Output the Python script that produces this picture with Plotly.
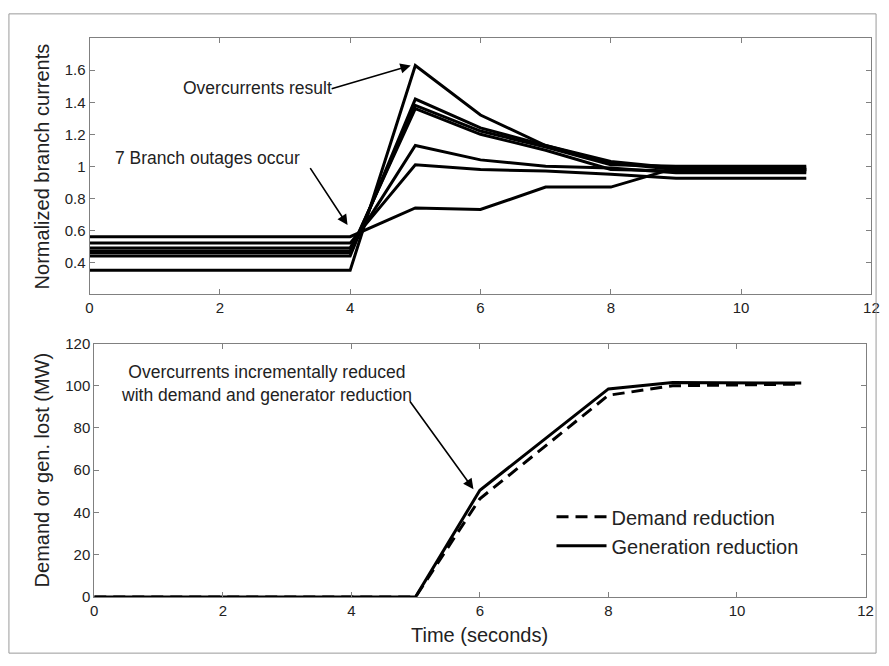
import plotly.graph_objects as go

time_s = [0, 1, 2, 3, 4, 5, 6, 7, 8, 9, 10, 11]

branch_1 = [0.35, 0.35, 0.35, 0.35, 0.35, 1.63, 1.32, 1.13, 1.02, 0.98, 0.98, 0.98]
branch_2 = [0.44, 0.44, 0.44, 0.44, 0.44, 1.42, 1.24, 1.13, 1.03, 0.99, 0.99, 0.99]
branch_3 = [0.46, 0.46, 0.46, 0.46, 0.46, 1.38, 1.22, 1.12, 1.01, 1.00, 1.00, 1.00]
branch_4 = [0.47, 0.47, 0.47, 0.47, 0.47, 1.36, 1.20, 1.10, 0.98, 0.97, 0.97, 0.97]
branch_5 = [0.49, 0.49, 0.49, 0.49, 0.49, 1.13, 1.04, 1.00, 0.99, 0.96, 0.96, 0.96]
branch_6 = [0.52, 0.52, 0.52, 0.52, 0.52, 1.01, 0.98, 0.97, 0.95, 0.925, 0.925, 0.925]
branch_7 = [0.56, 0.56, 0.56, 0.56, 0.56, 0.74, 0.73, 0.87, 0.87, 0.99, 0.98, 0.98]
branches = [branch_1, branch_2, branch_3, branch_4, branch_5, branch_6, branch_7]

demand_reduction = [0, 0, 0, 0, 0, 0, 46.5, 71, 95.5, 100, 100.5, 100.8]
generation_reduction = [0, 0, 0, 0, 0, 0, 50.5, 74.5, 98.5, 101.5, 101.5, 101.3]

x_ticks = [0, 2, 4, 6, 8, 10, 12]
top_y_ticks = [0.4, 0.6, 0.8, 1.0, 1.2, 1.4, 1.6]
top_y_text = ["0.4", "0.6", "0.8", "1", "1.2", "1.4", "1.6"]
bottom_y_ticks = [0, 20, 40, 60, 80, 100, 120]

W, H = 889, 666
FONT = "Liberation Sans, Arial, Helvetica, sans-serif"
TXT = "#222222"
AX = "#808080"

fig = go.Figure()
for b in branches:
    fig.add_trace(go.Scatter(x=time_s, y=b, mode="lines", xaxis="x", yaxis="y",
                             line=dict(color="black", width=3), showlegend=False,
                             hoverinfo="skip"))

fig.add_trace(go.Scatter(x=time_s, y=demand_reduction, mode="lines", xaxis="x2", yaxis="y2",
                         name="Demand reduction",
                         line=dict(color="black", width=3, dash="12px,7px")))
fig.add_trace(go.Scatter(x=time_s, y=generation_reduction, mode="lines", xaxis="x2", yaxis="y2",
                         name="Generation reduction",
                         line=dict(color="black", width=3)))

def px_x(p):
    return p / W

def px_y(p):
    return 1 - p / H

axis_common = dict(showline=True, linecolor=AX, linewidth=1, mirror="ticks",
                   ticks="inside", ticklen=5, tickcolor=AX, showgrid=False, zeroline=False,
                   tickfont=dict(size=15, color=TXT, family=FONT))

fig.update_layout(
    width=W, height=H,
    margin=dict(l=0, r=0, t=0, b=0),
    paper_bgcolor="white", plot_bgcolor="white",
    font=dict(family=FONT, color=TXT),
    xaxis=dict(domain=[px_x(86.7), px_x(879.3)], anchor="y", range=[0, 12],
               tickvals=x_ticks, **axis_common),
    yaxis=dict(domain=[px_y(292), px_y(30)], anchor="x", range=[0.205, 1.8],
               tickvals=top_y_ticks, ticktext=top_y_text, **axis_common),
    xaxis2=dict(domain=[px_x(91.5), px_x(873.3)], anchor="y2", range=[0, 12],
                tickvals=x_ticks, **axis_common),
    yaxis2=dict(domain=[px_y(603.3), px_y(343.3)], anchor="x2", range=[0, 120],
                tickvals=bottom_y_ticks, **axis_common),
    legend=dict(x=px_x(555), y=px_y(501), xanchor="left", yanchor="top",
                bgcolor="rgba(0,0,0,0)", borderwidth=0, itemwidth=50,
                font=dict(size=20, color=TXT, family=FONT), tracegroupgap=0),
    showlegend=True,
)

fig.add_shape(type="rect", xref="paper", yref="paper",
              x0=px_x(5), x1=px_x(884), y0=px_y(661), y1=px_y(5),
              line=dict(color="#9a9a9a", width=1), fillcolor="rgba(0,0,0,0)")

ann_font = dict(size=17.5, color=TXT, family=FONT)
title_font = dict(size=20, color=TXT, family=FONT)

annotations = [
    dict(text="Normalized branch currents", xref="paper", yref="paper",
         x=px_x(38), y=px_y(161), textangle=-90, showarrow=False,
         xanchor="center", yanchor="middle", font=title_font),
    dict(text="Demand or gen. lost (MW)", xref="paper", yref="paper",
         x=px_x(38), y=px_y(473), textangle=-90, showarrow=False,
         xanchor="center", yanchor="middle", font=title_font),
    dict(text="Time (seconds)", xref="paper", yref="paper",
         x=px_x(482), y=px_y(642), showarrow=False,
         xanchor="center", yanchor="middle", font=title_font),
    dict(text="Overcurrents result", xref="paper", yref="paper",
         x=px_x(256.7), y=px_y(81), showarrow=False,
         xanchor="center", yanchor="middle", font=ann_font),
    dict(text="7 Branch outages occur", xref="paper", yref="paper",
         x=px_x(206.7), y=px_y(153.3), showarrow=False,
         xanchor="center", yanchor="middle", font=ann_font),
    dict(text="Overcurrents incrementally reduced<br>with demand and generator reduction",
         xref="paper", yref="paper", x=px_x(266.5), y=px_y(384.5), showarrow=False,
         xanchor="center", yanchor="middle", font=ann_font, align="center"),
    dict(text="", x=4.93, y=1.63, xref="x", yref="y", showarrow=True,
         ax=-80.6, ay=23.7, arrowhead=2, arrowsize=1.3, arrowwidth=1.6, arrowcolor="black"),
    dict(text="", x=3.96, y=0.633, xref="x", yref="y", showarrow=True,
         ax=-38.3, ay=-58.4, arrowhead=2, arrowsize=1.3, arrowwidth=1.6, arrowcolor="black"),
    dict(text="", x=5.90, y=51, xref="x2", yref="y2", showarrow=True,
         ax=-64.7, ay=-89.4, arrowhead=2, arrowsize=1.3, arrowwidth=1.6, arrowcolor="black"),
]
fig.update_layout(annotations=annotations)

post = (
    "var s=document.createElement('style');"
    "s.textContent='html,body{margin:0;padding:0;overflow:hidden;}';"
    "document.head.appendChild(s);"
)
fig.write_html("out.html", config={"displayModeBar": False}, post_script=post)
